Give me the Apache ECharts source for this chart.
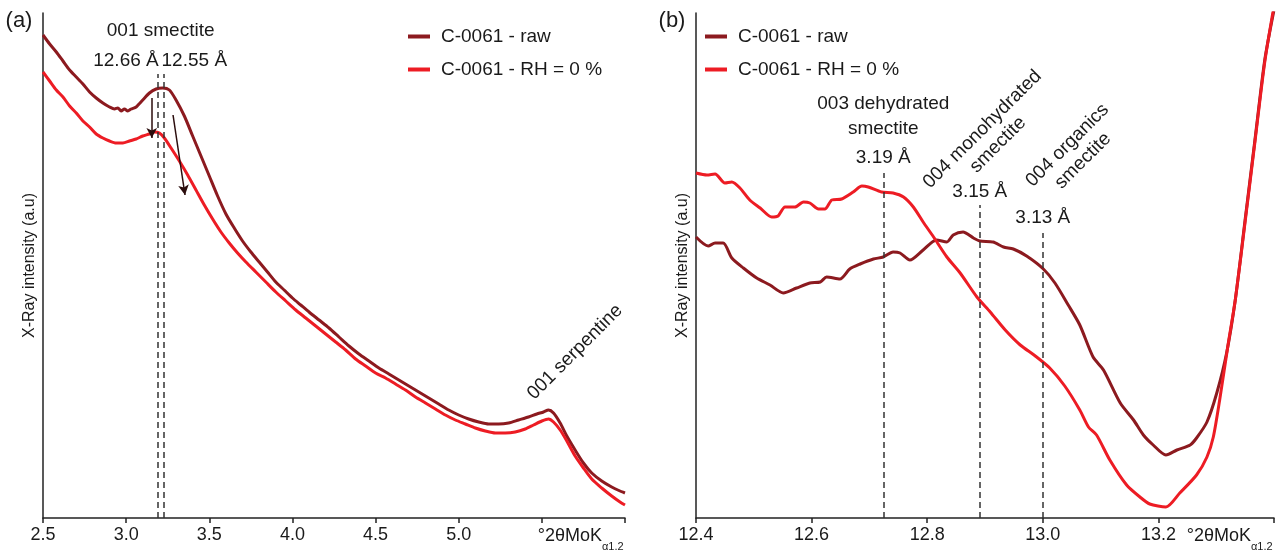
<!DOCTYPE html>
<html><head><meta charset="utf-8">
<script src="https://cdn.jsdelivr.net/npm/echarts/dist/echarts.min.js"></script>
<style>html,body{margin:0;padding:0;background:#fff}#c{width:1286px;height:555px}</style>
</head><body><div id="c"></div>
<script>
// ---------- DATA ----------
const RAW = 'C-0061 - raw';
const RH0 = 'C-0061 - RH = 0 %';

// Panel (a): 2θ (°) and intensity (a.u.)
const aRawX = [2.50,2.54,2.58,2.62,2.66,2.70,2.74,2.78,2.82,2.86,2.90,2.93,2.95,2.97,2.99,3.01,3.03,3.06,3.10,3.14,3.18,3.22,3.26,3.30,3.35,3.40,3.45,3.50,3.55,3.60,3.65,3.70,3.75,3.80,3.85,3.90,3.95,4.00,4.05,4.10,4.16,4.22,4.28,4.34,4.40,4.46,4.52,4.58,4.64,4.70,4.76,4.82,4.88,4.94,5.00,5.06,5.12,5.18,5.24,5.30,5.36,5.42,5.47,5.51,5.54,5.57,5.61,5.65,5.70,5.75,5.80,5.86,5.92,5.97,6.00];
const aRawY = [483,474,466,457,448,441,434,426,420,415,411,409,410,407,409,407,409,411,418,425,429,430,428,418,402,382,362,342,322,304,290,277,266,256,246,236,228,220,213,206,198,190,181,172,164,157,150,144,138,132,126,120,114,108,103,99,96,94,94,95,98,101,104,106,108,105,95,82,68,55,45,37,31,27,25];
const aRhX = [2.50,2.54,2.58,2.62,2.66,2.70,2.74,2.78,2.82,2.86,2.90,2.94,2.98,3.02,3.06,3.10,3.14,3.17,3.20,3.23,3.27,3.32,3.37,3.42,3.47,3.52,3.57,3.62,3.67,3.72,3.78,3.84,3.90,3.96,4.02,4.08,4.14,4.20,4.26,4.32,4.38,4.44,4.50,4.56,4.62,4.68,4.74,4.80,4.86,4.92,4.98,5.04,5.10,5.16,5.22,5.28,5.34,5.40,5.45,5.50,5.54,5.57,5.61,5.65,5.70,5.75,5.80,5.86,5.92,5.97,6.00];
const aRhY = [446,437,428,421,412,405,397,391,384,380,377,375,375,377,379,382,384,386,385,380,370,357,343,328,313,299,286,275,265,256,246,236,226,217,208,200,192,184,176,168,159,152,145,140,134,128,121,115,109,103,98,94,90,87,85,85,86,89,93,97,99,96,88,77,62,50,39,30,22,16,13];

// Panel (b)
const bRawX = [12.400,12.421,12.433,12.447,12.462,12.482,12.505,12.528,12.551,12.574,12.597,12.615,12.626,12.649,12.666,12.684,12.707,12.724,12.741,12.753,12.770,12.793,12.816,12.834,12.845,12.862,12.880,12.891,12.914,12.932,12.949,12.972,13.001,13.021,13.044,13.064,13.087,13.105,13.134,13.157,13.174,13.191,13.213,13.232,13.255,13.266,13.284,13.301,13.318,13.333,13.350,13.367,13.384,13.400];
const bRawY = [281,272,275,275,260,250,240,233,225,230,235,236,241,239,249,254,259,261,266,265,258,268,278,276,283,286,280,277,276,271,269,262,249,235,213,193,161,148,115,98,83,73,63,68,73,80,96,125,165,218,298,378,458,508];
const bRhX = [12.400,12.419,12.433,12.450,12.462,12.476,12.493,12.511,12.531,12.542,12.554,12.571,12.586,12.597,12.612,12.623,12.635,12.652,12.672,12.687,12.698,12.721,12.741,12.759,12.776,12.793,12.811,12.834,12.857,12.886,12.909,12.935,12.961,12.987,13.012,13.038,13.064,13.079,13.093,13.116,13.145,13.168,13.185,13.213,13.237,13.266,13.284,13.295,13.306,13.321,13.333,13.350,13.367,13.384,13.400];
const bRhY = [345,343,344,335,336,330,318,310,301,302,311,311,316,315,309,309,318,319,326,332,331,326,325,321,311,296,281,261,245,221,206,188,173,162,150,132,108,91,83,58,33,21,14,11,25,43,61,81,118,175,218,296,376,456,512];

// Reference peak positions (°2θ) and dashed-line heights
const peaksA = [3.19, 3.225];
const peaksATop = [444, 444];
const peaksB = [12.724, 12.891, 13.0];
const peaksBTop = [345, 313, 285];
// Arrows (start, end) in data coordinates of panel (a)
const arrowsA = [[[3.154, 420], [3.154, 380]], [[3.282, 403], [3.354, 323]]];

// Tick settings
const ticksA = {min: 2.5, max: 6.0, interval: 0.5};
const ticksB = {min: 12.4, max: 13.4, interval: 0.2};

// ---------- CHART ----------
const FONT = '"Liberation Sans", Arial, Helvetica, sans-serif';
const C_RAW = '#8c1a1f';
const C_RH = '#ed1c24';
const TXT = '#1a1a1a';
const zip = (xs, ys) => xs.map((x, i) => [x, ys[i]]);

const chart = echarts.init(document.getElementById('c'), null, {renderer: 'canvas'});

function xAxisCfg(g, t, hideFrom) {
  return {
    type: 'value', gridIndex: g, min: t.min, max: t.max, interval: t.interval,
    axisLine: {show: true, onZero: false, lineStyle: {color: '#222', width: 1.5}},
    axisTick: {show: true, length: 5, lineStyle: {color: '#222', width: 1.5}},
    axisLabel: {fontSize: 18, color: TXT, fontFamily: FONT, margin: 8,
      formatter: v => (v > hideFrom ? '' : v.toFixed(1))},
    splitLine: {show: false}
  };
}
function yAxisCfg(g) {
  return {
    type: 'value', gridIndex: g, min: 0, max: 505,
    axisLine: {show: true, lineStyle: {color: '#222', width: 1.5}},
    axisTick: {show: false}, axisLabel: {show: false}, splitLine: {show: false},
    name: 'X-Ray intensity (a.u)', nameLocation: 'middle', nameGap: 5,
    nameTextStyle: {fontSize: 16, color: TXT, fontFamily: FONT}
  };
}
function lineSeries(name, color, g, data, extra) {
  return Object.assign({
    name, type: 'line', xAxisIndex: g, yAxisIndex: g, data,
    showSymbol: false, symbol: 'none', smooth: 0.25, clip: true,
    lineStyle: {color, width: 3}, itemStyle: {color}, emphasis: {disabled: true}
  }, extra || {});
}
function dashedMarks(xs, tops) {
  return {
    silent: true, symbol: ['none', 'none'], label: {show: false}, emphasis: {disabled: true},
    lineStyle: {color: '#333', type: [6, 4], width: 1.5},
    data: xs.map((x, i) => [{coord: [x, 0]}, {coord: [x, tops[i]]}])
  };
}
function legendCfg(left) {
  return {
    data: [RAW, RH0], orient: 'vertical', left, top: 27, padding: 0,
    icon: 'rect', itemWidth: 22, itemHeight: 4, itemGap: 14,
    textStyle: {fontSize: 19, color: TXT, fontFamily: FONT, padding: [0, 0, 0, 6]}
  };
}

chart.setOption({
  animation: false,
  textStyle: {fontFamily: FONT},
  grid: [
    {left: 43, right: 661, top: 13, bottom: 37},
    {left: 696, right: 12, top: 13, bottom: 37}
  ],
  legend: [legendCfg(408), legendCfg(705)],
  xAxis: [xAxisCfg(0, ticksA, 5.25), xAxisCfg(1, ticksB, 13.3)],
  yAxis: [yAxisCfg(0), yAxisCfg(1)],
  series: [
    lineSeries(RAW, C_RAW, 0, zip(aRawX, aRawY), {markLine: dashedMarks(peaksA, peaksATop)}),
    lineSeries(RH0, C_RH, 0, zip(aRhX, aRhY), {markLine: {
      silent: true, symbol: ['none', 'arrow'], symbolSize: [8, 10], label: {show: false},
      emphasis: {disabled: true},
      lineStyle: {color: '#2b0d0d', type: 'solid', width: 1.5},
      data: arrowsA.map(a => [{coord: a[0]}, {coord: a[1]}])
    }}),
    lineSeries(RAW, C_RAW, 1, zip(bRawX, bRawY), {markLine: dashedMarks(peaksB, peaksBTop)}),
    lineSeries(RH0, C_RH, 1, zip(bRhX, bRhY))
  ]
});

// ---------- ANNOTATIONS (placed through the axes' scales) ----------
const P = (g, x, y) => chart.convertToPixel({gridIndex: g}, [x, y]);
function txt(g, x, y, text, o) {
  o = o || {};
  const p = P(g, x, y);
  return {
    type: 'text', x: p[0] + (o.dx || 0), y: p[1] + (o.dy || 0), rotation: o.rot || 0, silent: true,
    style: {text, fill: TXT, fontSize: o.size || 19, fontFamily: FONT,
      align: o.align || 'center', verticalAlign: 'middle', lineHeight: o.lh || 24}
  };
}
function unitLabel(g, xEnd) {
  const p = P(g, xEnd, 0);
  return [
    {type: 'text', x: p[0] - 23, y: p[1] + 18, silent: true,
     style: {text: '°2θMoK', fill: TXT, fontSize: 18, fontFamily: FONT, align: 'right', verticalAlign: 'middle'}},
    {type: 'text', x: p[0] - 23, y: p[1] + 29, silent: true,
     style: {text: 'α1.2', fill: TXT, fontSize: 11, fontFamily: FONT, align: 'left', verticalAlign: 'middle'}}
  ];
}
const R45 = Math.PI / 4;
chart.setOption({
  graphic: [
    {type: 'text', x: 19, y: 21, silent: true,
     style: {text: '(a)', fill: TXT, fontSize: 22, fontFamily: FONT, align: 'center', verticalAlign: 'middle'}},
    {type: 'text', x: 672, y: 21, silent: true,
     style: {text: '(b)', fill: TXT, fontSize: 22, fontFamily: FONT, align: 'center', verticalAlign: 'middle'}},
    txt(0, (peaksA[0] + peaksA[1]) / 2, 487, '001 smectite'),
    txt(0, peaksA[0], 457, '12.66 Å', {align: 'right', dx: 1}),
    txt(0, peaksA[1], 457, '12.55 Å', {align: 'left', dx: -2}),
    txt(0, 5.70, 166, '001 serpentine', {rot: R45}),
    txt(1, peaksB[0], 402, '003 dehydrated\nsmectite', {lh: 25}),
    txt(1, peaksB[0], 360, '3.19 Å'),
    txt(1, 12.909, 381, '004 monohydrated\nsmectite', {rot: R45, lh: 22}),
    txt(1, peaksB[1], 326, '3.15 Å'),
    txt(1, 13.056, 365, '004 organics\nsmectite', {rot: R45, lh: 22}),
    txt(1, peaksB[2], 300, '3.13 Å'),
    ...unitLabel(0, ticksA.max),
    ...unitLabel(1, ticksB.max)
  ]
});
</script></body></html>
